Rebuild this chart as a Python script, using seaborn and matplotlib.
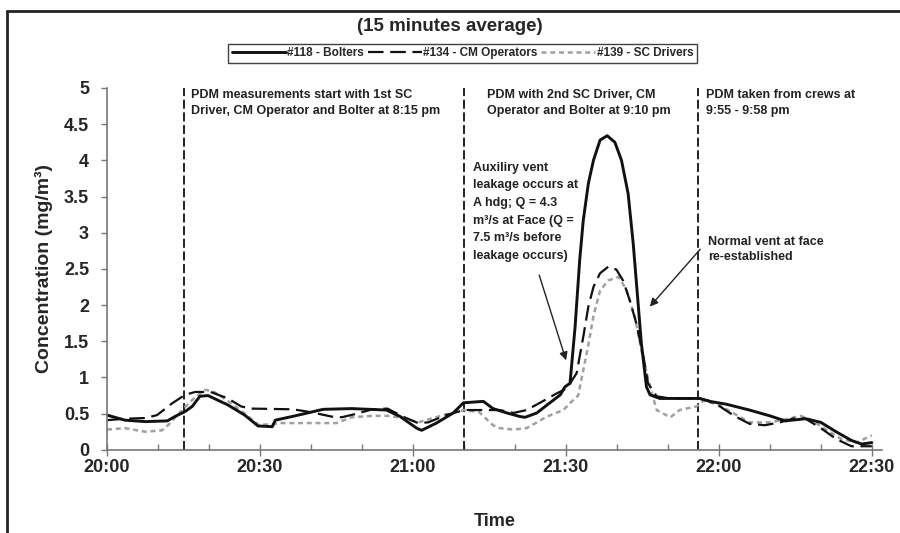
import numpy as np
import pandas as pd
import matplotlib
matplotlib.use("Agg")
import matplotlib.pyplot as plt
import seaborn as sns
from matplotlib.lines import Line2D
from matplotlib.ticker import MultipleLocator, FixedLocator

sns.set_style("ticks")
plt.rcParams['font.family'] = ['Liberation Sans', 'DejaVu Sans']
plt.rcParams['font.weight'] = 'bold'
plt.rcParams['axes.labelweight'] = 'bold'

# ---- data (minutes after 20:00, concentration mg/m3) ----
bolters_t = [0, 3.5, 7.5, 11.8, 13.3, 15.3, 16.7, 18.2, 19.8, 23.7, 27, 29.6, 32.4, 33, 36.9,
             42.4, 48, 54.8, 57.5, 60.7, 61.7, 64.6, 67.9, 69.9, 73.8, 75.7, 78.4, 81, 82,
             84.3, 86.3, 88.9, 89.8, 90.8, 91.8, 92.7, 93.4, 94.4, 95.4, 96.7, 98.1, 99.6,
             100.9, 102.2, 103.2, 104.0, 104.8, 105.8, 106.5, 108.4, 116.3, 118.2, 121.5,
             126, 130, 133, 137, 140, 143, 146, 148, 150]
bolters_v = [0.48, 0.41, 0.39, 0.40, 0.46, 0.53, 0.60, 0.74, 0.75, 0.62, 0.48, 0.33, 0.32, 0.41, 0.47,
             0.56, 0.57, 0.55, 0.46, 0.30, 0.27, 0.37, 0.51, 0.65, 0.67, 0.57, 0.51, 0.46, 0.45,
             0.51, 0.62, 0.76, 0.87, 0.92, 1.70, 2.62, 3.17, 3.68, 4.00, 4.28, 4.34, 4.25,
             4.00, 3.54, 2.85, 2.16, 1.47, 0.87, 0.76, 0.71, 0.71, 0.67, 0.63,
             0.55, 0.47, 0.40, 0.43, 0.38, 0.25, 0.13, 0.08, 0.10]

cm_t = [0, 3.5, 7.5, 9.8, 12.7, 15.3, 17.3, 20.3, 23.7, 26.3, 28.3, 36.5, 40, 44, 46, 49, 52,
        55, 58, 61, 63, 66.5, 70, 74, 77, 79.7, 82.3, 84.9, 88.2, 90.2, 92.1, 93.4, 94.4,
        95.4, 96.7, 98.3, 99.9, 101.2, 102.5, 103.8, 105.2, 106.1, 107.8, 110.4, 116, 118,
        120.2, 123, 126, 129, 132, 135, 137, 140, 143, 146, 150]
cm_v = [0.41, 0.43, 0.44, 0.48, 0.64, 0.76, 0.80, 0.80, 0.71, 0.60, 0.57, 0.56, 0.52, 0.46, 0.45, 0.50, 0.56,
        0.57, 0.46, 0.37, 0.38, 0.48, 0.55, 0.55, 0.55, 0.51, 0.55, 0.65, 0.78, 0.85, 1.06, 1.56, 1.98,
        2.25, 2.44, 2.53, 2.49, 2.34, 2.07, 1.75, 1.29, 0.92, 0.74, 0.71, 0.71, 0.68,
        0.60, 0.47, 0.36, 0.34, 0.38, 0.44, 0.43, 0.30, 0.15, 0.05, 0.05]

sc_t = [0, 3.5, 7.5, 10.8, 12.1, 14.7, 17.3, 19.3, 21, 24, 27, 29.6, 32, 34, 40, 45, 48, 52,
        55, 58, 61, 64, 67, 70, 73, 75.7, 77, 79.7, 82.3, 86.3, 89.5, 91, 92.4, 93.4, 94.4,
        95.4, 96.7, 98.3, 100.3, 101.9, 103.5, 104.8, 106.5, 107.8, 109.1, 110.5, 112.3,
        115.6, 117, 120, 123, 126, 130, 133, 136, 138, 141, 144, 147, 150]
sc_v = [0.28, 0.30, 0.25, 0.27, 0.35, 0.55, 0.73, 0.83, 0.80, 0.66, 0.50, 0.35, 0.35, 0.37, 0.37, 0.37, 0.45, 0.47,
        0.47, 0.44, 0.38, 0.44, 0.50, 0.55, 0.52, 0.34, 0.30, 0.28, 0.30, 0.46, 0.55, 0.66, 0.75, 1.10, 1.45,
        1.85, 2.20, 2.34, 2.39, 2.21, 1.84, 1.38, 0.87, 0.55, 0.50, 0.45, 0.55,
        0.60, 0.68, 0.62, 0.50, 0.38, 0.38, 0.42, 0.47, 0.42, 0.28, 0.15, 0.10, 0.20]

series_names = ["#118 - Bolters", "#134 - CM Operators", "#139 - SC Drivers"]
event_times = [15, 70, 116]
tick_minutes = [0, 30, 60, 90, 120, 150]
tick_labels = ["20:00", "20:30", "21:00", "21:30", "22:00", "22:30"]
y_ticks = [0, 0.5, 1, 1.5, 2, 2.5, 3, 3.5, 4, 4.5, 5]
y_labels = ["0", "0.5", "1", "1.5", "2", "2.5", "3", "3.5", "4", "4.5", "5"]

df_b = pd.DataFrame({"t": bolters_t, "v": bolters_v})
df_c = pd.DataFrame({"t": cm_t, "v": cm_v})
df_s = pd.DataFrame({"t": sc_t, "v": sc_v})

fig = plt.figure(figsize=(9, 5.33), dpi=100)
ax = fig.add_axes([0.119, 0.156, 0.861, 0.679])

styles = [
    dict(color="#111111", linewidth=2.1, linestyle="-"),
    dict(color="#111111", linewidth=1.6, linestyle=(0, (7, 3))),
    dict(color="#a0a0a0", linewidth=1.8, linestyle=(0, (2, 1.5))),
]
sns.lineplot(data=df_s, x="t", y="v", ax=ax, **styles[2])
sns.lineplot(data=df_c, x="t", y="v", ax=ax, **styles[1])
sns.lineplot(data=df_b, x="t", y="v", ax=ax, **styles[0])

for et in event_times:
    ax.axvline(et, color="#111111", linewidth=1.3, linestyle=(0, (5, 2)), zorder=1)

ax.set_xlim(0, 152)
ax.set_ylim(0, 5)
ax.xaxis.set_major_locator(FixedLocator(tick_minutes))
ax.set_xticklabels(tick_labels)
ax.xaxis.set_minor_locator(MultipleLocator(10))
ax.set_yticks(y_ticks)
ax.set_yticklabels(y_labels)
ax.tick_params(axis="x", which="major", direction="inout", length=9, width=1, color="#777777",
               labelsize=13, pad=2)
ax.tick_params(axis="x", which="minor", direction="in", length=4, width=1, color="#777777")
ax.tick_params(axis="y", which="major", direction="out", length=4, width=1, color="#777777",
               labelsize=13, pad=9)
for lab in ax.get_xticklabels() + ax.get_yticklabels():
    lab.set_fontweight("bold")
for s in ["top", "right"]:
    ax.spines[s].set_visible(False)
for s in ["left", "bottom"]:
    ax.spines[s].set_color("#777777")
    ax.spines[s].set_linewidth(1.2)

ax.set_xlabel("Time", fontsize=13, fontweight="bold", labelpad=27)
ax.set_ylabel("Concentration (mg/m³)", fontsize=14, fontweight="bold", labelpad=8)

fig.text(0.5, 0.95, "(15 minutes average)", ha="center", va="center", fontsize=13.5, fontweight="bold")

handles = [Line2D([], [], **styles[0]), Line2D([], [], **styles[1]), Line2D([], [], **styles[2])]
leg = fig.legend(handles, series_names, loc="center", bbox_to_anchor=(0.514, 0.9), ncol=3,
                 frameon=True, fancybox=False, edgecolor="#111111", handlelength=4.6,
                 handletextpad=0.1, columnspacing=0.3, borderpad=0.3,
                 prop={"size": 8.5, "weight": "bold"})
leg.get_frame().set_linewidth(1.0)

tk = dict(fontsize=9, fontweight="bold", color="#222222", va="top", ha="left", linespacing=1.4)
ax.text(16.5, 4.98, "PDM measurements start with 1st SC\nDriver, CM Operator and Bolter at 8:15 pm", **tk)
ax.text(74.5, 4.98, "PDM with 2nd SC Driver, CM\nOperator and Bolter at 9:10 pm", **tk)
ax.text(117.5, 4.98, "PDM taken from crews at\n9:55 - 9:58 pm", **tk)
tk2 = dict(tk, linespacing=1.62)
ax.text(71.8, 3.98, "Auxiliry vent\nleakage occurs at\nA hdg; Q = 4.3\nm³/s at Face (Q =\n7.5 m³/s before\nleakage occurs)", **tk2)
ax.text(117.8, 2.96, "Normal vent at face\nre-established", **tk)

ax.annotate("", xy=(90.2, 1.2), xytext=(84.6, 2.45),
            arrowprops=dict(arrowstyle="-|>", color="#222222", lw=1.0, mutation_scale=12))
ax.annotate("", xy=(106.1, 1.95), xytext=(116.7, 2.8),
            arrowprops=dict(arrowstyle="-|>", color="#222222", lw=1.0, mutation_scale=12))

# picture frame lines (left and top)
fig.add_artist(Line2D([0.008, 0.008], [0.0, 0.979], transform=fig.transFigure, color="#222222", lw=2))
fig.add_artist(Line2D([0.008, 1.0], [0.979, 0.979], transform=fig.transFigure, color="#222222", lw=2))

fig.savefig("out.png", dpi=100)
